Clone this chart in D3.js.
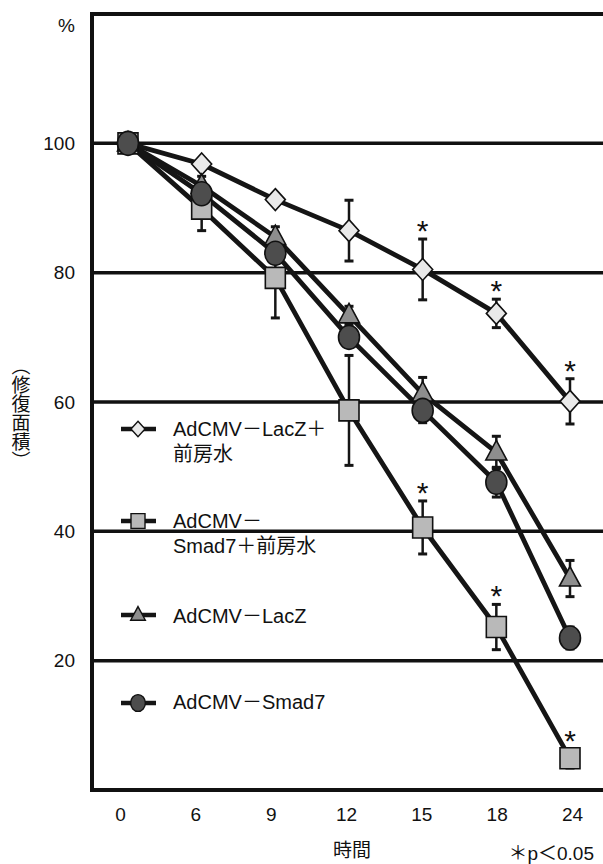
<!DOCTYPE html>
<html><head><meta charset="utf-8">
<script src="https://cdn.jsdelivr.net/npm/d3@7"></script>
<style>
body{margin:0;background:#fff;}
text{font-family:"Liberation Sans","Noto Sans CJK JP",Arial,sans-serif;fill:#111;}
</style></head>
<body>
<svg id="chart" width="603" height="864"></svg>
<script>
// ---- data ----
const categories = ["0","6","9","12","15","18","24"];
const yTicks = [20,40,60,80,100];
const seriesNames = ["AdCMV－LacZ＋\n前房水","AdCMV－\nSmad7＋前房水","AdCMV－LacZ","AdCMV－Smad7"];
const lacZAqueous   = [100, 96.8, 91.3, 86.5, 80.5, 73.7, 60.1];
const lacZAqueousErr= [0, 0.8, 0.8, 4.7, 4.7, 2.2, 3.5];
const smad7Aqueous  = [100, 89.9, 79.2, 58.7, 40.6, 25.2, 4.9];
const smad7AqueousErr=[0, 3.4, 6.2, 8.5, 4.1, 3.5, 1.5];
const lacZ          = [100, 93.4, 85.5, 73.4, 61.3, 52.2, 32.7];
const lacZErr       = [0, 1.5, 1.6, 1.4, 2.5, 2.5, 2.8];
const smad7         = [100, 92.2, 83.0, 70.0, 58.7, 47.6, 23.5];
const smad7Err      = [0, 1.5, 1.5, 1.5, 1.9, 2.3, 1.7];
const sigLacZAqueous = ["15","18","24"];
const sigSmad7Aqueous = ["15","18","24"];
const xTitle = "時間";
const yTitle = "（修復面積）";
const yUnit = "%";
const pNote = "＊p＜0.05";

// ---- scales ----
const svg = d3.select("#chart");
const x = d3.scalePoint().domain(categories).range([128, 570]);
const xLabel = d3.scalePoint().domain(categories).range([120, 572]);
const y = d3.scaleLinear().domain([0, 120]).range([790, 14]);

const plotLeft = 92, plotRight = 603;

// gridlines
svg.append("g").selectAll("line").data(yTicks).join("line")
  .attr("x1", plotLeft).attr("x2", plotRight)
  .attr("y1", d => y(d)).attr("y2", d => y(d))
  .attr("stroke", "#111").attr("stroke-width", 3.5);

// frame: left, top, bottom
svg.append("line").attr("x1", plotLeft).attr("x2", plotLeft).attr("y1", y(120)).attr("y2", y(0))
  .attr("stroke", "#111").attr("stroke-width", 4);
svg.append("line").attr("x1", plotLeft - 2).attr("x2", plotRight).attr("y1", y(120)).attr("y2", y(120))
  .attr("stroke", "#111").attr("stroke-width", 4);
svg.append("line").attr("x1", plotLeft - 2).attr("x2", plotRight).attr("y1", y(0)).attr("y2", y(0))
  .attr("stroke", "#111").attr("stroke-width", 4);

// y axis labels
const yAxis = svg.append("g").attr("transform", `translate(${plotLeft},0)`)
  .call(d3.axisLeft(y).tickValues(yTicks).tickSize(0).tickPadding(17));
yAxis.select(".domain").remove();
yAxis.selectAll("text").style("font-size", "19px").style("font-family", "Liberation Sans, Arial, sans-serif").attr("fill", "#111");

// x axis labels
const xAxis = svg.append("g").attr("transform", `translate(0,${y(0)})`)
  .call(d3.axisBottom(xLabel).tickSize(0).tickPadding(18));
xAxis.select(".domain").remove();
xAxis.selectAll("text").style("font-size", "19px").style("font-family", "Liberation Sans, Arial, sans-serif").attr("fill", "#111");

// unit
svg.append("text").attr("x", 75).attr("y", 32).attr("text-anchor", "end")
  .style("font-size", "19px").text(yUnit);

// titles
svg.append("text").attr("x", 352).attr("y", 857).attr("text-anchor", "middle")
  .style("font-size", "19px").style("font-family", "Noto Sans CJK JP").text(xTitle);
svg.append("text").attr("x", 594).attr("y", 860).attr("text-anchor", "end")
  .style("font-size", "19px").text(pNote);
svg.append("text").attr("x", 21).attr("y", 413).attr("text-anchor", "middle")
  .style("writing-mode", "vertical-rl").style("font-size", "19px")
  .style("font-family", "Noto Sans CJK JP").text(yTitle);

// ---- series ----
const shapes = {
  diamond: s => `M0,${-11*s}L${10*s},0L0,${11*s}L${-10*s},0Z`,
  square: s => `M${-10*s},${-10.5*s}H${10*s}V${10.5*s}H${-10*s}Z`,
  triangle: s => `M0,${-12*s}L${10.5*s},${7.5*s}L${-10.5*s},${7.5*s}Z`,
  circle: s => `M${-10.5*s},0A${10.5*s},${12*s} 0 1 0 ${10.5*s},0A${10.5*s},${12*s} 0 1 0 ${-10.5*s},0Z`
};
const series = [
  {name: seriesNames[0], values: lacZAqueous, err: lacZAqueousErr, shape: "diamond", fill: "#e9e9e9", sig: sigLacZAqueous, legendY: 429, textY: [436, 461]},
  {name: seriesNames[1], values: smad7Aqueous, err: smad7AqueousErr, shape: "square", fill: "#b9b9b9", sig: sigSmad7Aqueous, legendY: 521, textY: [528, 553]},
  {name: seriesNames[2], values: lacZ, err: lacZErr, shape: "triangle", fill: "#8e8e8e", sig: [], legendY: 615, textY: [623]},
  {name: seriesNames[3], values: smad7, err: smad7Err, shape: "circle", fill: "#4d4d4d", sig: [], legendY: 703, textY: [709]}
];

const line = d3.line().x((d, i) => x(categories[i])).y(d => y(d));

// lines
svg.append("g").selectAll("path").data(series).join("path")
  .attr("d", s => line(s.values)).attr("fill", "none")
  .attr("stroke", "#151515").attr("stroke-width", 4.8).attr("stroke-linejoin", "round");

// error bars
series.forEach(s => {
  const g = svg.append("g");
  const pts = s.values.map((v, i) => ({c: categories[i], v, e: s.err[i]})).filter(p => p.e > 0);
  g.selectAll(".eb").data(pts).join("line")
    .attr("x1", p => x(p.c)).attr("x2", p => x(p.c))
    .attr("y1", p => y(p.v + p.e)).attr("y2", p => y(p.v - p.e))
    .attr("stroke", "#151515").attr("stroke-width", 2.5);
  ["+", "-"].forEach(sgn => {
    g.selectAll(".cap" + (sgn === "+" ? "t" : "b")).data(pts).join("line")
      .attr("x1", p => x(p.c) - 4.5).attr("x2", p => x(p.c) + 4.5)
      .attr("y1", p => y(sgn === "+" ? p.v + p.e : p.v - p.e))
      .attr("y2", p => y(sgn === "+" ? p.v + p.e : p.v - p.e))
      .attr("stroke", "#151515").attr("stroke-width", 3);
  });
  // significance marks
  g.selectAll(".sig").data(s.sig).join("text")
    .attr("x", c => x(c))
    .attr("y", c => { const i = categories.indexOf(c); return y(s.values[i] + s.err[i]) + 2; })
    .attr("text-anchor", "middle").style("font-size", "30px")
    .style("font-family", "Liberation Sans, Arial, sans-serif").attr("fill", "#111")
    .text("*");
});

// markers
series.forEach(s => {
  svg.append("g").selectAll("path").data(s.values).join("path")
    .attr("transform", (d, i) => `translate(${x(categories[i])},${y(d)})`)
    .attr("d", shapes[s.shape](1))
    .attr("fill", s.fill).attr("stroke", "#111").attr("stroke-width", 1.6);
});

// legend
series.forEach(s => {
  const g = svg.append("g");
  g.append("line").attr("x1", 121).attr("x2", 156).attr("y1", s.legendY).attr("y2", s.legendY)
    .attr("stroke", "#151515").attr("stroke-width", 4.5);
  g.append("path").attr("transform", `translate(138,${s.legendY})`)
    .attr("d", shapes[s.shape](0.7)).attr("fill", s.fill).attr("stroke", "#111").attr("stroke-width", 1.4);
  s.name.split("\n").forEach((t, k) => {
    g.append("text").attr("x", 173).attr("y", s.textY[k]).style("font-size", "20px").text(t);
  });
});
</script>
</body></html>
